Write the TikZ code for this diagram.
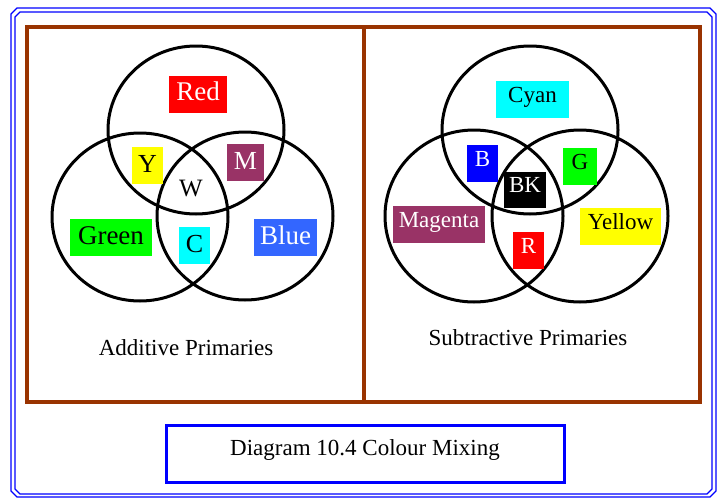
\documentclass[tikz,border=0pt]{standalone}
\usepackage{fontspec}
\setmainfont{Liberation Serif}
\definecolor{framebrown}{HTML}{993300}
\definecolor{plum}{HTML}{993366}
\definecolor{skyblue}{HTML}{3366FF}
\definecolor{pureblue}{HTML}{0000FF}
\definecolor{purecyan}{HTML}{00FFFF}
\definecolor{puregreen}{HTML}{00FF00}
\definecolor{pureyellow}{HTML}{FFFF00}
\definecolor{purered}{HTML}{FF0000}
\begin{document}
\begin{tikzpicture}[x=1pt,y=-1pt,
  ring/.style={line width=3pt},
  panel/.style={draw=framebrown,line width=3.4pt},
  rim/.style={draw=pureblue,line width=1.1pt},
  addtag/.style={inner sep=0pt,text height=18.9pt,text depth=5.9pt,minimum height=37pt},
  subtag/.style={inner sep=0pt,text height=15.2pt,text depth=9.7pt,minimum height=37pt,font=\fontsize{23}{26}\selectfont},
  bigtxt/.style={font=\fontsize{27}{30}\selectfont},
  midtxt/.style={font=\fontsize{26}{29}\selectfont},
  caption/.style={font=\fontsize{23}{26}\selectfont},
  ]
\useasboundingbox (0,0) rectangle (717,498);

% double blue border with cut corners
\draw[rim] (17,8) -- (710,8) -- (716,14) -- (716,491) -- (710,497) -- (17,497) -- (11,491) -- (11,14) -- cycle;
\draw[rim] (20,12) -- (707,12) -- (712,17) -- (712,489) -- (707,494) -- (20,494) -- (15,489) -- (15,17) -- cycle;

% the two brown panels
\draw[panel] (27,27) rectangle (700,402);
\draw[panel] (364,27) -- (364,402);

% additive primaries circles
\draw[ring] (196,130) ellipse [x radius=88pt,y radius=84pt];
\draw[ring] (140,217) ellipse [x radius=88pt,y radius=84pt];
\draw[ring] (245,216) ellipse [x radius=88pt,y radius=84pt];

% subtractive primaries circles
\draw[ring] (530,130) ellipse [x radius=88pt,y radius=84pt];
\draw[ring] (474,216) ellipse [x radius=89pt,y radius=86pt];
\draw[ring] (580,216) ellipse [x radius=88pt,y radius=86pt];

% additive labels
\node[addtag,bigtxt,fill=purered,text=white,minimum width=58pt] (red) at (198,94) {Red};
\node[addtag,midtxt,fill=pureyellow,minimum width=31pt] (y) at (147.5,165.5) {Y};
\node[addtag,midtxt,fill=plum,text=white,minimum width=37pt] (m) at (245.5,162.5) {M};
\node[anchor=base,inner sep=0pt,font=\fontsize{25}{28}\selectfont] (w) at (191,196.7) {W};
\node[addtag,bigtxt,fill=puregreen,minimum width=82pt] (green) at (111,237.5) {Green};
\node[addtag,midtxt,fill=purecyan,minimum width=31pt] (c) at (194.5,245.5) {C};
\node[addtag,bigtxt,fill=skyblue,text=white,minimum width=63pt] (blue) at (285.5,237.5) {Blue};
\node[caption,anchor=base,inner sep=0pt] (addtitle) at (186,355) {Additive Primaries};

% subtractive labels
\node[subtag,fill=purecyan,minimum width=73pt] (cyan) at (532.5,99.5) {Cyan};
\node[subtag,fill=pureblue,text=white,minimum width=31pt] (b) at (482.5,163.5) {B};
\node[subtag,fill=puregreen,minimum width=34pt] (g) at (580,166.5) {G};
\node[subtag,fill=black,text=white,minimum width=42pt,minimum height=36pt] (bk) at (525,190) {BK};
\node[subtag,fill=plum,text=white,minimum width=92pt] (magenta) at (439,224.5) {Magenta};
\node[subtag,fill=purered,text=white,minimum width=31pt] (r) at (528.5,250.5) {R};
\node[subtag,fill=pureyellow,minimum width=81pt] (yellow) at (620.5,226.5) {Yellow};
\node[caption,anchor=base,inner sep=0pt] (subtitle) at (528,345) {Subtractive Primaries};

% caption box
\node[draw=pureblue,line width=3pt,caption,inner sep=0pt,minimum width=398pt,minimum height=57pt,
      text height=13.6pt,text depth=9.2pt] (cap) at (365,453.5) {Diagram 10.4 Colour Mixing};
\end{tikzpicture}
\end{document}
